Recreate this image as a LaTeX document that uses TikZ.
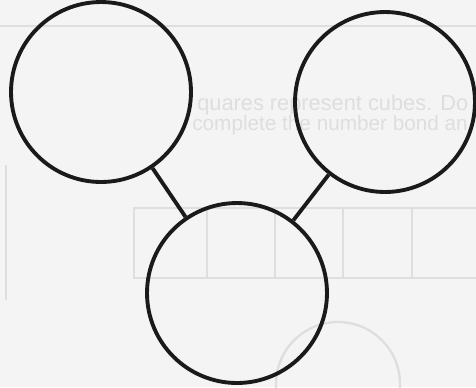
\documentclass[tikz,border=0pt]{standalone}
\usepackage{fontspec}
\setsansfont{Liberation Sans}
\definecolor{paperBg}{RGB}{244,244,244}
\definecolor{showThrough}{RGB}{222,222,222}
\definecolor{bondInk}{RGB}{26,26,26}

\begin{document}
\begin{tikzpicture}[
  x=0.02cm, y=-0.02cm,
  bond/.style={circle, draw=bondInk, line width=2.2pt, minimum size=3.6cm, inner sep=0pt},
  link/.style={draw=bondInk, line width=2.2pt},
  ghost/.style={draw=showThrough, line width=1.3pt},
  ghosttext/.style={font=\sffamily\fontsize{12.4}{14}\selectfont, text=showThrough, anchor=base west, inner sep=0pt}
]

% Page and its margins.
\fill[paperBg] (0,0) rectangle (476,387);
\useasboundingbox (0,0) rectangle (476,387);

% Print showing through from the back of the sheet.
\draw[ghost] (0,26) -- (476,26);
\draw[ghost] (6,165) -- (6,300);
\draw[ghost] (480,208) -- (134,208) -- (134,278) -- (480,278);
\foreach \xd in {207,275,343,412}
  \draw[ghost] (\xd,208) -- (\xd,278);
\draw[ghost] (338,384) circle[radius=62];
\node[ghosttext] (backA) at (197,110) {quares represent cubes. Do};
\node[ghosttext, font=\sffamily\fontsize{11.8}{14}\selectfont] (backB) at (192,130) {complete the number bond an};

% Number bond: two parts and the whole.
\node[bond] (partL) at (101,92) {};
\node[bond] (partR) at (385,102) {};
\node[bond] (whole) at (237,293) {};

\draw[link] (partL) -- (whole);
\draw[link] (partR) -- (whole);

\end{tikzpicture}
\end{document}
